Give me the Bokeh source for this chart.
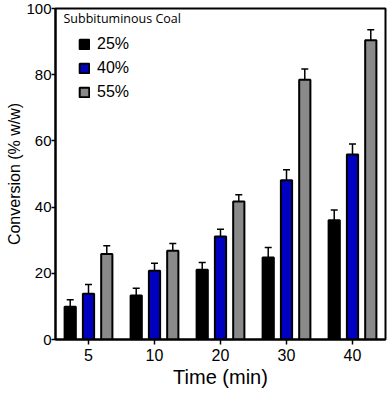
from bokeh.plotting import figure
from bokeh.models import ColumnDataSource, FactorRange, Range1d, Whisker, TeeHead, Legend, LegendItem, Label
from bokeh.transform import dodge
from bokeh.embed import file_html
from bokeh.resources import INLINE

times = ["5", "10", "20", "30", "40"]
c25 = [9.9, 13.3, 21.1, 24.8, 36.0]
c40 = [13.8, 20.8, 31.1, 48.1, 55.9]
c55 = [25.8, 26.8, 41.7, 78.5, 90.4]
e25 = [2.1, 2.2, 2.2, 3.0, 3.1]
e40 = [2.8, 2.2, 2.2, 3.2, 3.2]
e55 = [2.5, 2.2, 2.0, 3.2, 3.2]
series = ["25%", "40%", "55%"]
colors = ["#000000", "#0000c0", "#8a8a8a"]
offsets = [-0.277, 0.0, 0.277]

src = ColumnDataSource(dict(
    t=times, c25=c25, c40=c40, c55=c55,
    lo25=[v - e for v, e in zip(c25, e25)], hi25=[v + e for v, e in zip(c25, e25)],
    lo40=[v - e for v, e in zip(c40, e40)], hi40=[v + e for v, e in zip(c40, e40)],
    lo55=[v - e for v, e in zip(c55, e55)], hi55=[v + e for v, e in zip(c55, e55)],
))

p = figure(x_range=FactorRange(*times, range_padding=0), y_range=Range1d(0, 100),
           width=387, height=394, output_backend="svg", toolbar_location=None,
           min_border_left=55, min_border_right=2, min_border_top=8, min_border_bottom=55)
p.x_range.factor_padding = 0
p.xgrid.visible = False
p.ygrid.visible = False
p.outline_line_color = "black"
p.outline_line_width = 2
p.background_fill_color = "white"

keys = ["25", "40", "55"]
renderers = []
for k, col, off in zip(keys, colors, offsets):
    r = p.vbar(x=dodge("t", off, range=p.x_range), top="c" + k, width=0.17, bottom=0,
               source=src, fill_color=col, line_color="black", line_width=2)
    renderers.append(r)
    w = Whisker(base=dodge("t", off, range=p.x_range), upper="hi" + k, lower="lo" + k,
                source=src, line_color="black", line_width=1.5,
                upper_head=TeeHead(size=7, line_color="black", line_width=1.5),
                lower_head=TeeHead(size=7, line_color="black", line_width=1.5))
    p.add_layout(w)

legend = Legend(items=[LegendItem(label=s, renderers=[r]) for s, r in zip(series, renderers)],
                location=(23, 237), padding=0, margin=0, spacing=4,
                glyph_width=12, glyph_height=12, label_height=20, label_standoff=7,
                label_text_font="Liberation Sans", label_text_font_size="16px",
                label_text_color="black",
                border_line_color=None, background_fill_alpha=0)
p.add_layout(legend)

title = Label(x=8, y=321, x_units="screen", y_units="screen", text="Subbituminous Coal",
              text_font="Open Sans", text_font_size="12.5px", text_baseline="middle",
              text_color="black")
p.add_layout(title)

for ax in (p.xaxis[0], p.yaxis[0]):
    ax.axis_line_width = 2
    ax.axis_line_color = "black"
    ax.major_tick_line_width = 1.5
    ax.major_tick_in = 0
    ax.major_tick_out = 5
    ax.major_label_text_font = "Liberation Sans"
    ax.major_label_text_font_size = "16px"
    ax.major_label_text_color = "black"
    ax.axis_label_text_font = "Liberation Sans"
    ax.axis_label_text_font_style = "normal"
    ax.axis_label_text_color = "black"

p.yaxis.ticker = [0, 20, 40, 60, 80, 100]
p.yaxis[0].ticker.num_minor_ticks = 3
p.yaxis.major_tick_out = 4
p.yaxis.minor_tick_in = 0
p.yaxis.minor_tick_out = 3
p.yaxis.minor_tick_line_width = 1.5
p.yaxis.major_label_standoff = 0
p.yaxis.major_label_text_font_size = "15px"
p.yaxis.axis_label = "Conversion (% w/w)"
p.yaxis.axis_label_text_font_size = "16px"
p.yaxis.axis_label_standoff = 0

p.xaxis.major_label_standoff = 4
p.xaxis.axis_label = "Time (min)"
p.xaxis.axis_label_text_font_size = "20px"
p.xaxis.axis_label_standoff = 2

open("out.html", "w").write(file_html(p, INLINE))
